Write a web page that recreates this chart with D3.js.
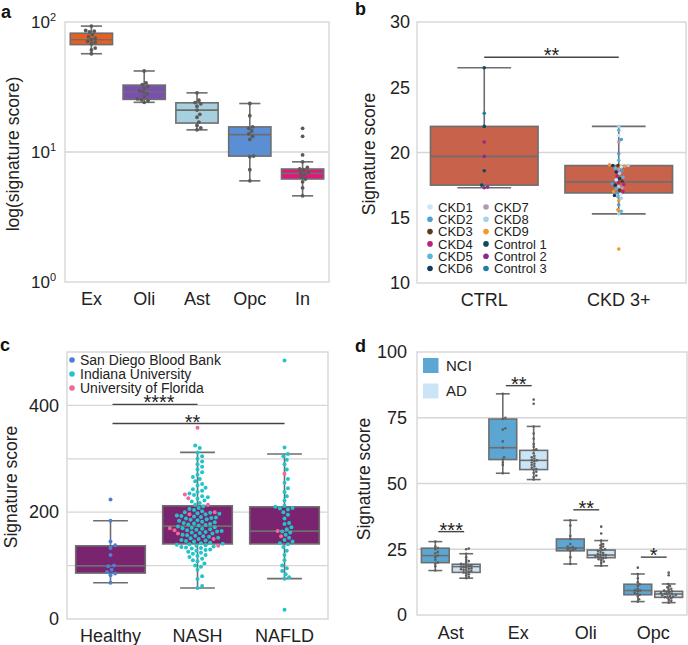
<!DOCTYPE html>
<html>
<head>
<meta charset="utf-8">
<script src="https://cdn.jsdelivr.net/npm/d3@7"></script>
<style>
body { margin: 0; background: #fff; }
svg { font-family: "Liberation Sans", Arial, sans-serif; }
</style>
</head>
<body>
<svg width="688" height="645"></svg>
<script>
// ---------- panel a : log signature score per cell type
var aCats = ["Ex", "Oli", "Ast", "Opc", "In"];
var aColors = ["#e8601f", "#7b4fb2", "#a7d0de", "#5b8fd5", "#e3167b"];
// [whisker low, q1, median, q3, whisker high]
var aBoxes = [
  [57, 67, 73, 82, 93],
  [24.1, 25.4, 29.1, 32.7, 42],
  [14.8, 16.7, 21, 23.9, 28.5],
  [6.0, 9.3, 13.6, 15.6, 23.6],
  [4.6, 6.2, 6.85, 7.4, 8.4]
];
var aPoints = [
  [93, 86, 85, 84, 80, 77, 75, 73, 71, 70, 68, 63, 61, 57],
  [42, 34, 33, 32, 31, 29.5, 29, 28, 26.5, 25.6, 25.2, 24.8, 24.1],
  [28.5, 25, 24, 23.5, 22.5, 21, 19.5, 18.5, 17, 16, 15.3, 14.8],
  [23.6, 19, 15.6, 15.2, 14.5, 13.8, 13.2, 12.5, 9.3, 9.2, 7.3, 6.0],
  [15.2, 13.2, 9.5, 8.4, 7.6, 7.4, 7.3, 7.0, 6.9, 6.7, 6.4, 6.2, 5.9, 5.3, 4.6]
];
var aTicks = [1, 10, 100];

// ---------- panel b : CTRL vs CKD 3+
var bCats = ["CTRL", "CKD 3+"];
var bBoxes = [
  [17.3, 17.5, 19.7, 22.0, 26.5],
  [15.3, 16.9, 17.75, 19.0, 22.0]
];
var ctrlScores = [26.5, 23.0, 22.0, 20.8, 19.7, 18.6, 17.5, 17.35, 17.3];
var ctrlSamples = ["Control 1", "Control 3", "Control 1", "Control 2", "Control 2", "Control 1", "Control 1", "Control 2", "Control 2"];
var ckdScores = [22.0, 21.7, 21.3, 21.0, 20.8, 19.9, 19.4, 19.05, 19.0, 19.0, 19.0, 18.95, 18.9, 18.8, 18.7,
  18.6, 18.5, 18.4, 18.2, 18.1, 18.0, 17.9, 17.8, 17.7, 17.6, 17.55, 17.5, 17.4, 17.3, 17.2,
  17.1, 17.0, 17.0, 16.9, 16.8, 16.7, 16.6, 16.5, 16.3, 16.0, 15.6, 15.5, 15.3, 12.6];
var ckdSamples = ["CKD8", "CKD5", "CKD1", "CKD2", "CKD7", "CKD2", "CKD5", "CKD9", "CKD3", "CKD6", "CKD8", "CKD9", "CKD1", "CKD5", "CKD7",
  "CKD2", "CKD6", "CKD8", "CKD4", "CKD5", "CKD6", "CKD1", "CKD3", "CKD4", "CKD2", "CKD4", "CKD6", "CKD8", "CKD7", "CKD5",
  "CKD3", "CKD4", "CKD9", "CKD2", "CKD1", "CKD6", "CKD5", "CKD8", "CKD9", "CKD2", "CKD9", "CKD5", "CKD8", "CKD9"];
var bSamples = ["CKD1", "CKD2", "CKD3", "CKD4", "CKD5", "CKD6", "CKD7", "CKD8", "CKD9", "Control 1", "Control 2", "Control 3"];
var bSampleColors = ["#cde6f8", "#4c9fd7", "#5b3a1e", "#b8227c", "#5bb6d8", "#173a5c", "#b29aab", "#a8d2ec", "#f7952e", "#0e4a5c", "#8d2a8d", "#1d7ea8"];
var bTicks = [10, 15, 20, 25, 30];

// ---------- panel c : liver cohorts
var cCats = ["Healthy", "NASH", "NAFLD"];
var cBoxes = [
  [68, 86, 99.4, 137, 184],
  [58, 140.6, 174, 212, 312],
  [75.6, 140.6, 164.5, 210, 309]
];
var cSources = ["San Diego Blood Bank", "Indiana University", "University of Florida"];
var cSourceColors = ["#4c7fd6", "#22c3c9", "#f0689a"];
var healthySanDiego = [224, 184, 145, 138, 133, 120, 100, 99, 92, 88, 85, 82, 68];
var nashIndiana = [58, 62, 75, 80, 92, 98, 100, 104, 108, 110, 113, 116, 118, 120, 122, 124, 126, 128, 129, 130,
  132, 133, 134, 135, 136, 137, 138, 139, 140, 141, 142, 143, 145, 146, 147, 148, 150, 151, 152, 154,
  155, 156, 157, 158, 160, 161, 162, 163, 164, 165, 166, 167, 168, 169, 170, 171, 172, 173, 175, 176,
  177, 178, 179, 180, 181, 182, 184, 185, 186, 187, 188, 189, 190, 191, 192, 193, 194, 196, 197, 198,
  199, 200, 202, 204, 206, 208, 211, 214, 217, 220, 222, 225, 228, 230, 232, 235, 238, 240, 243, 246,
  250, 253, 258, 262, 266, 270, 275, 280, 285, 290, 295, 300, 305, 312, 320, 325];
var nashFlorida = [358, 233, 226, 214, 200, 196, 170, 166, 160, 150, 137];
var nafldIndiana = [484, 321, 309, 305, 298, 290, 280, 262, 255, 245, 238, 230, 222, 212, 210, 208, 207, 205,
  200, 195, 188, 180, 178, 172, 168, 164, 162, 158, 152, 148, 145, 142, 140, 135, 128, 120, 110, 100,
  95, 90, 84, 78, 75.6, 17.5];
var nafldFlorida = [272, 165, 155];
var cGrid = [100, 200, 300, 400];
var cTicks = [0, 200, 400];

// ---------- panel d : NCI vs AD per cell type
var dCats = ["Ast", "Ex", "Oli", "Opc"];
var dGroups = ["NCI", "AD"];
var dColors = ["#5ca6d3", "#cbe5f6"];
var dNciBoxes = [
  [16.9, 19.9, 22.6, 25.4, 27.9],
  [53.9, 59.1, 63.6, 74.5, 84.1],
  [19.4, 24.4, 25.5, 28.9, 36],
  [5.1, 7.7, 9.3, 11.7, 15.6]
];
var dAdBoxes = [
  [14, 16.2, 18.4, 19.3, 23.3],
  [51.5, 55.3, 58.8, 62.6, 71.7],
  [18.7, 21.8, 22.8, 24.7, 28.3],
  [4.7, 6.7, 8.0, 9.0, 11.8]
];
var dNciPoints = [
  [27.9, 26, 25.5, 25, 24, 23.5, 22.6, 22, 21, 20, 19.5, 18.5, 16.9],
  [84.1, 75, 74.5, 71, 70.5, 66, 63.6, 60, 59.1, 58, 57, 53.9],
  [36, 34, 30, 28.9, 27, 26, 25.8, 25.5, 25.2, 25, 24.7, 24.4, 22, 19.4],
  [18, 15.6, 14, 12.5, 11.7, 11, 10, 9.5, 9.3, 9, 8.5, 8, 7.7, 7, 6, 5.1]
];
var dAdPoints = [
  [25.3, 25.0, 23.3, 22, 21, 20.5, 20, 19.5, 19.2, 19, 18.8, 18.6, 18.4, 18.2, 18, 17.8, 17.6, 17.4, 17.2, 17,
    16.8, 16.5, 16.2, 16, 15.5, 15, 14.5, 14],
  [81.9, 80.3, 71.7, 69, 67, 65, 64, 63, 62.6, 61.5, 60.5, 60, 59.5, 59, 58.8, 58.5, 58, 57.5, 57, 56.5,
    56, 55.5, 55.3, 54.5, 54, 53, 52.5, 51.5],
  [33.6, 31, 28.3, 27, 26.5, 26, 25.5, 25, 24.7, 24.4, 24, 23.6, 23.3, 23, 22.8, 22.6, 22.4, 22.2, 22, 21.8,
    21.5, 21.2, 20.8, 20.3, 19.8, 18.7],
  [16.1, 15.1, 11.8, 11, 10.5, 10, 9.6, 9.3, 9, 8.8, 8.6, 8.3, 8.1, 8, 7.8, 7.6, 7.4, 7.2, 7, 6.8,
    6.7, 6.3, 5.8, 5.3, 4.7]
];
var dGrid = [25, 50, 75];
var dTicks = [0, 25, 50, 75, 100];

var grey = "#6e6e6e";
var lightGrey = "#d6d6d6";
var ink = "#222";

var svg = d3.select("svg");

// ---------- helpers
// spreads points sideways so they do not overlap (layout only)
var swarm = function(vals, y, r)
{
  var order = d3.range(vals.length).sort(function(a, b) { return d3.ascending(vals[a], vals[b]); });
  var placed = [], off = [];
  var step = r * 0.5;
  order.forEach(function(i)
  {
    var py = y(vals[i]);
    var near = placed.filter(function(p) { return Math.abs(p.y - py) < 2 * r; });
    var dx = 0;
    for (var k = 0; k < 400; k++)
    {
      dx = (k % 2 ? 1 : -1) * Math.ceil(k / 2) * step;
      if (near.every(function(p) { return (p.x - dx) * (p.x - dx) + (p.y - py) * (p.y - py) >= 4 * r * r; })) break;
    }
    placed.push({x: dx, y: py});
    off[i] = dx;
  });
  return off;
};

var drawBox = function(g, cx, w, s, fill, y)
{
  var cap = w * 0.5;
  g.append("line").attr("x1", cx).attr("x2", cx).attr("y1", y(s[0])).attr("y2", y(s[1]))
   .attr("stroke", grey).attr("stroke-width", 1.6);
  g.append("line").attr("x1", cx).attr("x2", cx).attr("y1", y(s[3])).attr("y2", y(s[4]))
   .attr("stroke", grey).attr("stroke-width", 1.6);
  [s[0], s[4]].forEach(function(v)
  {
    g.append("line").attr("x1", cx - cap / 2).attr("x2", cx + cap / 2).attr("y1", y(v)).attr("y2", y(v))
     .attr("stroke", grey).attr("stroke-width", 1.6);
  });
  g.append("rect").attr("x", cx - w / 2).attr("y", y(s[3])).attr("width", w).attr("height", y(s[1]) - y(s[3]))
   .attr("fill", fill).attr("stroke", grey).attr("stroke-width", 1.6);
  g.append("line").attr("x1", cx - w / 2).attr("x2", cx + w / 2).attr("y1", y(s[2])).attr("y2", y(s[2]))
   .attr("stroke", grey).attr("stroke-width", 1.6);
};

var frame = function(g, x, y)
{
  g.append("rect").attr("x", x.range()[0]).attr("y", y.range()[1])
   .attr("width", x.range()[1] - x.range()[0]).attr("height", y.range()[0] - y.range()[1])
   .attr("fill", "none").attr("stroke", lightGrey).attr("stroke-width", 1.4);
};

var grid = function(g, x, y, vals)
{
  g.selectAll(null).data(vals).enter().append("line")
   .attr("x1", x.range()[0]).attr("x2", x.range()[1])
   .attr("y1", function(d) { return y(d); }).attr("y2", function(d) { return y(d); })
   .attr("stroke", lightGrey).attr("stroke-width", 1.3);
};

var leftAxis = function(g, x, y, ticks, pad, size)
{
  var ax = g.append("g").attr("transform", "translate(" + x.range()[0] + ",0)")
            .call(d3.axisLeft(y).tickValues(ticks).tickSize(0).tickPadding(pad));
  ax.attr("font-family", null).attr("font-size", size);
  ax.select(".domain").remove();
  ax.selectAll(".tick text").attr("fill", ink);
  return ax;
};

var bottomAxis = function(g, x, y, pad)
{
  var ax = g.append("g").attr("transform", "translate(0," + y.range()[0] + ")")
            .call(d3.axisBottom(x).tickSize(0).tickPadding(pad));
  ax.attr("font-family", null).attr("font-size", 18);
  ax.select(".domain").remove();
  ax.selectAll(".tick text").attr("fill", ink);
};

var yLabel = function(g, text, x, y, size)
{
  g.append("text").attr("transform", "translate(" + x + "," + y + ") rotate(-90)")
   .attr("text-anchor", "middle").attr("dy", "0.35em").attr("font-size", size).attr("fill", ink).text(text);
};

var panelLetter = function(letter, x, y)
{
  svg.append("text").attr("x", x).attr("y", y).attr("font-size", 18).attr("font-weight", "bold")
     .attr("fill", "#111").text(letter);
};

var sigBar = function(g, x1, x2, yy, label, shift)
{
  g.append("line").attr("x1", x1).attr("x2", x2).attr("y1", yy).attr("y2", yy)
   .attr("stroke", "#444").attr("stroke-width", 1.4);
  g.append("text").attr("x", (x1 + x2) / 2 + (shift || 0)).attr("y", yy + 5).attr("text-anchor", "middle")
   .attr("font-size", 20).attr("fill", ink).text(label);
};

// ================= panel a
var ga = svg.append("g");
var aX = d3.scaleBand().domain(aCats).range([65, 329]);
var aY = d3.scaleLog().domain([1, 100]).range([282, 22]);
grid(ga, aX, aY, [10]);
frame(ga, aX, aY);
var aAxis = leftAxis(ga, aX, aY, aTicks, 9, 17);
aAxis.selectAll(".tick text").text("").each(function(d)
{
  var t = d3.select(this);
  t.append("tspan").text("10");
  t.append("tspan").attr("dy", -7).attr("font-size", 11).text(Math.round(Math.log10(d)));
});
bottomAxis(ga, aX, aY, 10);
yLabel(ga, "log(signature score)", 13, 154, 17.5);
aCats.forEach(function(c, i)
{
  var cx = aX(c) + aX.bandwidth() / 2;
  drawBox(ga, cx, aX.bandwidth() * 0.8, aBoxes[i], aColors[i], aY);
  var off = swarm(aPoints[i], aY, 1.9);
  ga.selectAll(null).data(aPoints[i]).enter().append("circle")
    .attr("cx", function(d, j) { return cx + off[j]; })
    .attr("cy", function(d) { return aY(d); })
    .attr("r", 1.9).attr("fill", "#5a5a5a");
});
panelLetter("a", 1, 18);

// ================= panel b
var gb = svg.append("g");
var bX = d3.scaleBand().domain(bCats).range([417, 686]);
var bY = d3.scaleLinear().domain([10, 30]).range([283, 22]);
var bColor = d3.scaleOrdinal().domain(bSamples).range(bSampleColors);
grid(gb, bX, bY, [20]);
frame(gb, bX, bY);
leftAxis(gb, bX, bY, bTicks, 7, 18);
bottomAxis(gb, bX, bY, 10);
yLabel(gb, "Signature score", 369, 154, 17.5);
var bScores = [ctrlScores, ckdScores];
var bSampleLists = [ctrlSamples, ckdSamples];
bCats.forEach(function(c, i)
{
  var cx = bX(c) + bX.bandwidth() / 2;
  drawBox(gb, cx, bX.bandwidth() * 0.8, bBoxes[i], "#c8624a", bY);
  var off = swarm(bScores[i], bY, 1.7);
  gb.selectAll(null).data(bScores[i]).enter().append("circle")
    .attr("cx", function(d, j) { return cx + off[j]; })
    .attr("cy", function(d) { return bY(d); })
    .attr("r", 1.8)
    .attr("fill", function(d, j) { return bColor(bSampleLists[i][j]); });
});
sigBar(gb, bX("CTRL") + bX.bandwidth() / 2, bX("CKD 3+") + bX.bandwidth() / 2, bY(27.3), "**");

var bLegend = gb.append("g").attr("transform", "translate(430,207)");
var bLegendItems = bLegend.selectAll("g").data(bSamples).enter().append("g")
  .attr("transform", function(d, i) { return "translate(" + (Math.floor(i / 6) * 56) + "," + ((i % 6) * 12.3) + ")"; });
bLegendItems.append("circle").attr("r", 2.8).attr("fill", function(d) { return bColor(d); });
bLegendItems.append("text").attr("x", 8).attr("dy", "0.36em").attr("font-size", 13).attr("fill", ink)
  .text(function(d) { return d; });
panelLetter("b", 355, 15);

// ================= panel c
var gc = svg.append("g");
var cX = d3.scaleBand().domain(cCats).range([67, 328]);
var cY = d3.scaleLinear().domain([0, 500]).range([619, 352]);
var cColor = d3.scaleOrdinal().domain(cSources).range(cSourceColors);
grid(gc, cX, cY, cGrid);
frame(gc, cX, cY);
leftAxis(gc, cX, cY, cTicks, 8, 18);
bottomAxis(gc, cX, cY, 10);
yLabel(gc, "Signature score", 11, 487, 17.5);
var cPointSets = [
  [[healthySanDiego, "San Diego Blood Bank"]],
  [[nashIndiana, "Indiana University"], [nashFlorida, "University of Florida"]],
  [[nafldIndiana, "Indiana University"], [nafldFlorida, "University of Florida"]]
];
cCats.forEach(function(c, i)
{
  var cx = cX(c) + cX.bandwidth() / 2;
  drawBox(gc, cx, cX.bandwidth() * 0.8, cBoxes[i], "#7a2470", cY);
  var vals = [], src = [];
  cPointSets[i].forEach(function(s)
  {
    s[0].forEach(function(v) { vals.push(v); src.push(s[1]); });
  });
  var off = swarm(vals, cY, 2.3);
  gc.selectAll(null).data(vals).enter().append("circle")
    .attr("cx", function(d, j) { return cx + off[j]; })
    .attr("cy", function(d) { return cY(d); })
    .attr("r", 2)
    .attr("fill", function(d, j) { return cColor(src[j]); });
});
var cMid = function(c) { return cX(c) + cX.bandwidth() / 2; };
sigBar(gc, cMid("Healthy") + 2, cMid("NASH"), cY(402), "****", 4);
sigBar(gc, cMid("Healthy") + 2, cMid("NAFLD"), cY(366), "**", -6);
var cLegend = gc.append("g").attr("transform", "translate(72,360)");
var cLegendItems = cLegend.selectAll("g").data(cSources).enter().append("g")
  .attr("transform", function(d, i) { return "translate(0," + (i * 14) + ")"; });
cLegendItems.append("circle").attr("r", 2.8).attr("fill", function(d) { return cColor(d); });
cLegendItems.append("text").attr("x", 8).attr("dy", "0.36em").attr("font-size", 14).attr("fill", ink)
  .text(function(d) { return d; });
panelLetter("c", 0, 351);

// ================= panel d
var gd = svg.append("g");
var dX = d3.scaleBand().domain(dCats).range([417, 687]);
var dY = d3.scaleLinear().domain([0, 100]).range([615, 352]);
var dHue = d3.scaleBand().domain(dGroups).range([0, dX.bandwidth() * 0.915]);
grid(gd, dX, dY, dGrid);
frame(gd, dX, dY);
leftAxis(gd, dX, dY, dTicks, 10, 18);
bottomAxis(gd, dX, dY, 11);
yLabel(gd, "Signature score", 364, 479, 17.5);
var dBoxSets = [dNciBoxes, dAdBoxes];
var dPointSets = [dNciPoints, dAdPoints];
var dSig = ["***", "**", "**", "*"];
var dSigLevel = [31.7, 87.2, 40, 22];
dCats.forEach(function(c, i)
{
  var left = dX(c) + (dX.bandwidth() - dX.bandwidth() * 0.915) / 2;
  var centers = [];
  dGroups.forEach(function(gname, h)
  {
    var cx = left + dHue(gname) + dHue.bandwidth() / 2;
    centers.push(cx);
    drawBox(gd, cx, dHue.bandwidth() * 0.9, dBoxSets[h][i], dColors[h], dY);
    var pts = dPointSets[h][i];
    var off = swarm(pts, dY, 1.3);
    gd.selectAll(null).data(pts).enter().append("circle")
      .attr("cx", function(d, j) { return cx + off[j]; })
      .attr("cy", function(d) { return dY(d); })
      .attr("r", 1.3).attr("fill", "#5e5e5e");
  });
  sigBar(gd, centers[0] + 3, centers[1] - 2, dY(dSigLevel[i]), dSig[i]);
});
var dLegend = gd.append("g").attr("transform", "translate(423,358)");
var dLegendItems = dLegend.selectAll("g").data(dGroups).enter().append("g")
  .attr("transform", function(d, i) { return "translate(0," + (i * 25.5) + ")"; });
dLegendItems.append("rect").attr("width", 15.5).attr("height", 15)
  .attr("fill", function(d, i) { return dColors[i]; });
dLegendItems.append("text").attr("x", 23).attr("y", 7.5).attr("dy", "0.36em").attr("font-size", 15).attr("fill", ink)
  .text(function(d) { return d; });
panelLetter("d", 355, 352);
</script>
</body>
</html>
